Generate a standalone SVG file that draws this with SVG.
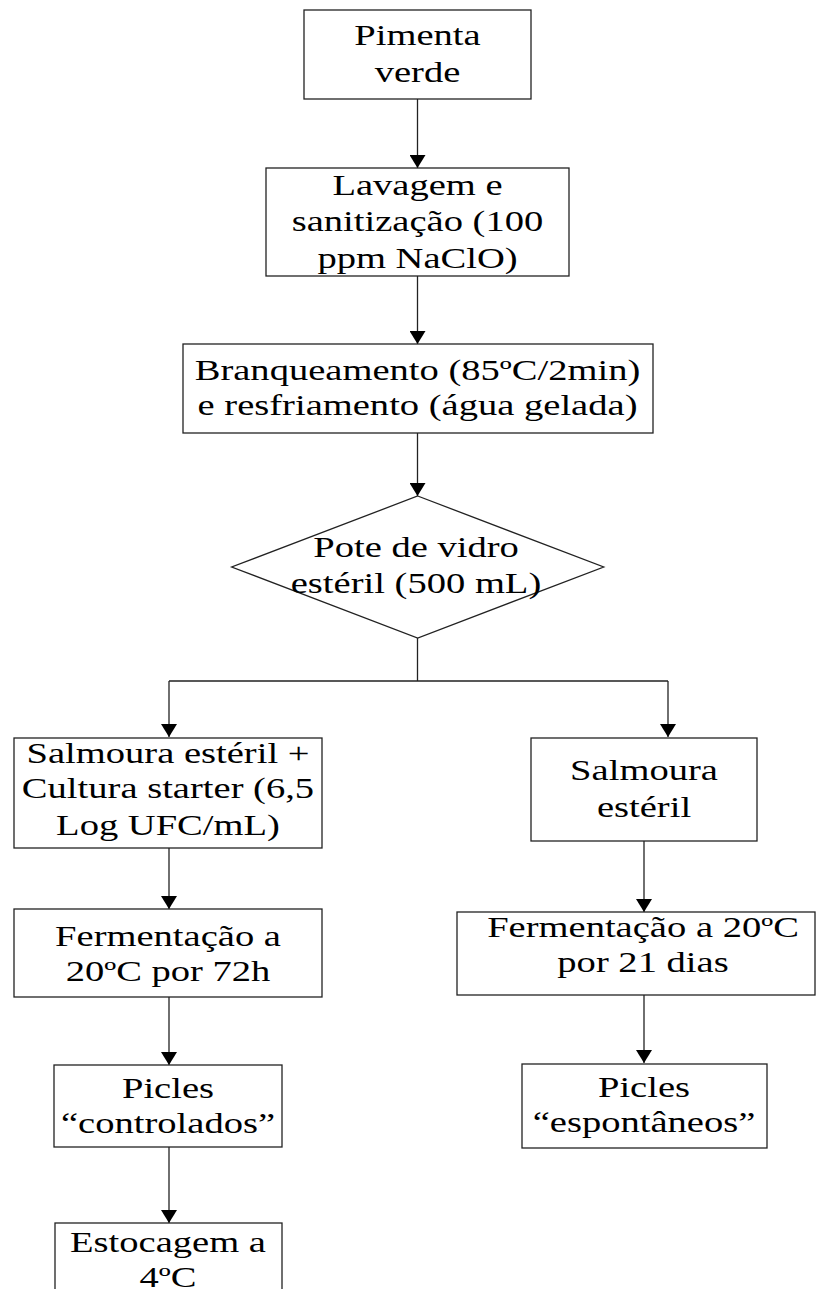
<svg xmlns="http://www.w3.org/2000/svg" width="817" height="1289" viewBox="0 0 817 1289">
<style>
.box{fill:#fff;stroke:#222;stroke-width:1.3}
.lbl{font-family:"Liberation Serif","Times New Roman",serif;font-size:29px;fill:#000;text-anchor:middle}
.con{fill:none;stroke:#222;stroke-width:1.3}
</style>
<defs>
<marker id="ah" viewBox="0 0 13 16" refX="13" refY="8" markerWidth="13" markerHeight="16" markerUnits="userSpaceOnUse" orient="auto">
<path d="M0,0 L13,8 L0,16 Z" fill="#000"/>
</marker>
</defs>
<rect width="817" height="1289" fill="#fff"/>
<g id="connectors">
<line class="con" x1="417.5" y1="99" x2="417.5" y2="168" marker-end="url(#ah)"/>
<line class="con" x1="417.5" y1="276" x2="417.5" y2="344" marker-end="url(#ah)"/>
<line class="con" x1="417.5" y1="433" x2="417.5" y2="496" marker-end="url(#ah)"/>
<path class="con" d="M417.5,638 V681 M169,681 H668"/>
<line class="con" x1="169" y1="681" x2="169" y2="737" marker-end="url(#ah)"/>
<line class="con" x1="668" y1="681" x2="668" y2="737" marker-end="url(#ah)"/>
<line class="con" x1="169" y1="848" x2="169" y2="909" marker-end="url(#ah)"/>
<line class="con" x1="169" y1="997" x2="169" y2="1065" marker-end="url(#ah)"/>
<line class="con" x1="169" y1="1147" x2="169" y2="1223" marker-end="url(#ah)"/>
<line class="con" x1="644" y1="841" x2="644" y2="912" marker-end="url(#ah)"/>
<line class="con" x1="644" y1="995" x2="644" y2="1063" marker-end="url(#ah)"/>
</g>
<g id="n1"><rect class="box" x="304" y="10" width="227" height="89"/>
<text class="lbl" transform="translate(417.5,0) scale(1.33,1)"><tspan x="0" y="45">Pimenta</tspan><tspan x="0" y="82">verde</tspan></text></g>
<g id="n2"><rect class="box" x="266" y="168" width="303" height="108"/>
<text class="lbl" transform="translate(417.5,0) scale(1.33,1)"><tspan x="0" y="195">Lavagem e</tspan><tspan x="0" y="231">sanitização (100</tspan><tspan x="0" y="268">ppm NaClO)</tspan></text></g>
<g id="n3"><rect class="box" x="183" y="344" width="470" height="89"/>
<text class="lbl" transform="translate(417.5,0) scale(1.33,1)"><tspan x="0" y="380">Branqueamento (85ºC/2min)</tspan><tspan x="0" y="415">e resfriamento (água gelada)</tspan></text></g>
<g id="n4"><polygon class="box" points="417.7,496 603.7,567 417.7,638 231.7,567"/>
<text class="lbl" transform="translate(416,0) scale(1.33,1)"><tspan x="0" y="557">Pote de vidro</tspan><tspan x="0" y="593">estéril (500 mL)</tspan></text></g>
<g id="n5"><rect class="box" x="14" y="738" width="308" height="110"/>
<text class="lbl" transform="translate(168,0) scale(1.33,1)"><tspan x="0" y="763">Salmoura estéril +</tspan><tspan x="0" y="798">Cultura starter (6,5</tspan><tspan x="0" y="835">Log UFC/mL)</tspan></text></g>
<g id="n6"><rect class="box" x="531" y="738" width="226" height="103"/>
<text class="lbl" transform="translate(644,0) scale(1.33,1)"><tspan x="0" y="780">Salmoura</tspan><tspan x="0" y="817">estéril</tspan></text></g>
<g id="n7"><rect class="box" x="14" y="909" width="308" height="88"/>
<text class="lbl" transform="translate(168,0) scale(1.33,1)"><tspan x="0" y="946">Fermentação a</tspan><tspan x="0" y="981">20ºC por 72h</tspan></text></g>
<g id="n8"><rect class="box" x="457" y="912" width="358" height="83"/>
<text class="lbl" transform="translate(643,0) scale(1.33,1)"><tspan x="0" y="937">Fermentação a 20ºC</tspan><tspan x="0" y="972">por 21 dias</tspan></text></g>
<g id="n9"><rect class="box" x="54" y="1065" width="228" height="82"/>
<text class="lbl" transform="translate(168,0) scale(1.33,1)"><tspan x="0" y="1098">Picles</tspan><tspan x="0" y="1133">“controlados”</tspan></text></g>
<g id="n10"><rect class="box" x="522" y="1064" width="245" height="84"/>
<text class="lbl" transform="translate(644,0) scale(1.33,1)"><tspan x="0" y="1097">Picles</tspan><tspan x="0" y="1132">“espontâneos”</tspan></text></g>
<g id="n11"><rect class="box" x="55" y="1223" width="227" height="80"/>
<text class="lbl" transform="translate(168,0) scale(1.33,1)"><tspan x="0" y="1252">Estocagem a</tspan><tspan x="0" y="1287">4ºC</tspan></text></g>
</svg>
